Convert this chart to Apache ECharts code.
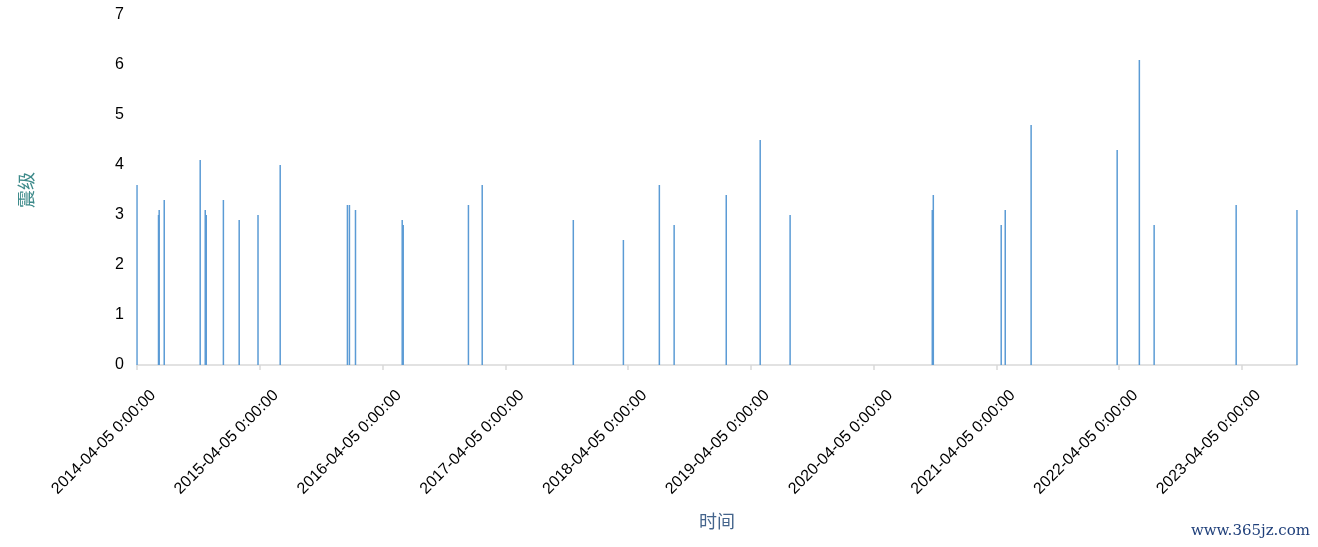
<!DOCTYPE html>
<html>
<head>
<meta charset="utf-8">
<script src="https://cdn.jsdelivr.net/npm/echarts@6/dist/echarts.min.js"></script>
<style>
html,body{margin:0;padding:0;background:#fff;}
#chart{width:1318px;height:547px;}
</style>
</head>
<body>
<div id="chart"></div>
<script>
// Event dates and magnitudes
var dates = [
  '2014-04-05','2014-06-08','2014-06-10','2014-06-25','2014-10-10','2014-10-25','2014-10-28',
  '2014-12-18','2015-02-03','2015-03-31','2015-06-05','2015-12-22','2015-12-28','2016-01-15',
  '2016-06-02','2016-06-05','2016-12-16','2017-01-26','2017-10-24','2018-03-22','2018-07-07',
  '2018-08-20','2019-01-22','2019-05-03','2019-07-31','2020-09-26','2020-09-29','2021-04-19',
  '2021-05-01','2021-07-17','2022-03-30','2022-06-04','2022-07-18','2023-03-19','2023-09-16'
];
var magnitudes = [
  3.6, 3.0, 3.1, 3.3, 4.1, 3.1, 3.0,
  3.3, 2.9, 3.0, 4.0, 3.2, 3.2, 3.1,
  2.9, 2.8, 3.2, 3.6, 2.9, 2.5, 3.6,
  2.8, 3.4, 4.5, 3.0, 3.1, 3.4, 2.8,
  3.1, 4.8, 4.3, 6.1, 2.8, 3.2, 3.1
];
var tickDates = [
  '2014-04-05','2015-04-05','2016-04-05','2017-04-05','2018-04-05',
  '2019-04-05','2020-04-05','2021-04-05','2022-04-05','2023-04-05'
];
var yTicks = [0, 1, 2, 3, 4, 5, 6, 7];

var DAY = 86400000;
function toMs(s){ var p = s.split('-'); return Date.UTC(+p[0], +p[1]-1, +p[2]); }
var base = toMs(dates[0]);
function off(s){ return Math.round((toMs(s) - base) / DAY); }
function fmt(v){
  var d = new Date(base + Math.round(v) * DAY);
  var m = d.getUTCMonth()+1, dd = d.getUTCDate();
  return d.getUTCFullYear() + '-' + (m<10?'0':'') + m + '-' + (dd<10?'0':'') + dd + ' 0:00:00';
}
var seriesData = dates.map(function(d, i){ return [off(d), magnitudes[i]]; });
var tickOffsets = tickDates.map(off);

var chart = echarts.init(document.getElementById('chart'));
chart.setOption({
  animation: false,
  grid: { left: 137, right: 21, top: 15, bottom: 182, containLabel: false },
  xAxis: {
    type: 'value',
    min: 0,
    max: off(dates[dates.length-1]),
    name: '时间',
    nameLocation: 'middle',
    nameGap: 147,
    nameTextStyle: { color: '#44648c', fontSize: 18, fontFamily: 'Noto Sans CJK SC' },
    axisLine: { show: true, lineStyle: { color: '#d9d9d9', width: 1.5 } },
    axisTick: { show: true, length: 5, customValues: tickOffsets, lineStyle: { color: '#d9d9d9', width: 1.5 } },
    axisLabel: {
      customValues: tickOffsets,
      rotate: 45,
      margin: 3,
      verticalAlign: 'top',
      padding: [21, 6, 0, 0],
      color: '#000',
      fontSize: 16,
      fontFamily: 'Liberation Sans',
      formatter: function(v){ return fmt(v); }
    },
    splitLine: { show: false }
  },
  yAxis: {
    type: 'value',
    min: yTicks[0],
    max: yTicks[yTicks.length-1],
    interval: 1,
    name: '震级',
    nameLocation: 'middle',
    nameGap: 102,
    nameRotate: 90,
    nameTextStyle: { color: '#3d8a8a', fontSize: 18, fontFamily: 'Noto Sans CJK SC' },
    axisLine: { show: false },
    axisTick: { show: false },
    axisLabel: { color: '#000', fontSize: 16, fontFamily: 'Liberation Sans', margin: 13 },
    splitLine: { show: false }
  },
  series: [{
    type: 'bar',
    data: seriesData,
    barWidth: 1.5,
    itemStyle: { color: '#5b9bd5' }
  }],
  graphic: [{
    type: 'text',
    right: 8,
    bottom: 8,
    style: { text: 'www.365jz.com', fill: '#1f3f7a', font: '15px "DejaVu Serif"' }
  }]
});
</script>
</body>
</html>
